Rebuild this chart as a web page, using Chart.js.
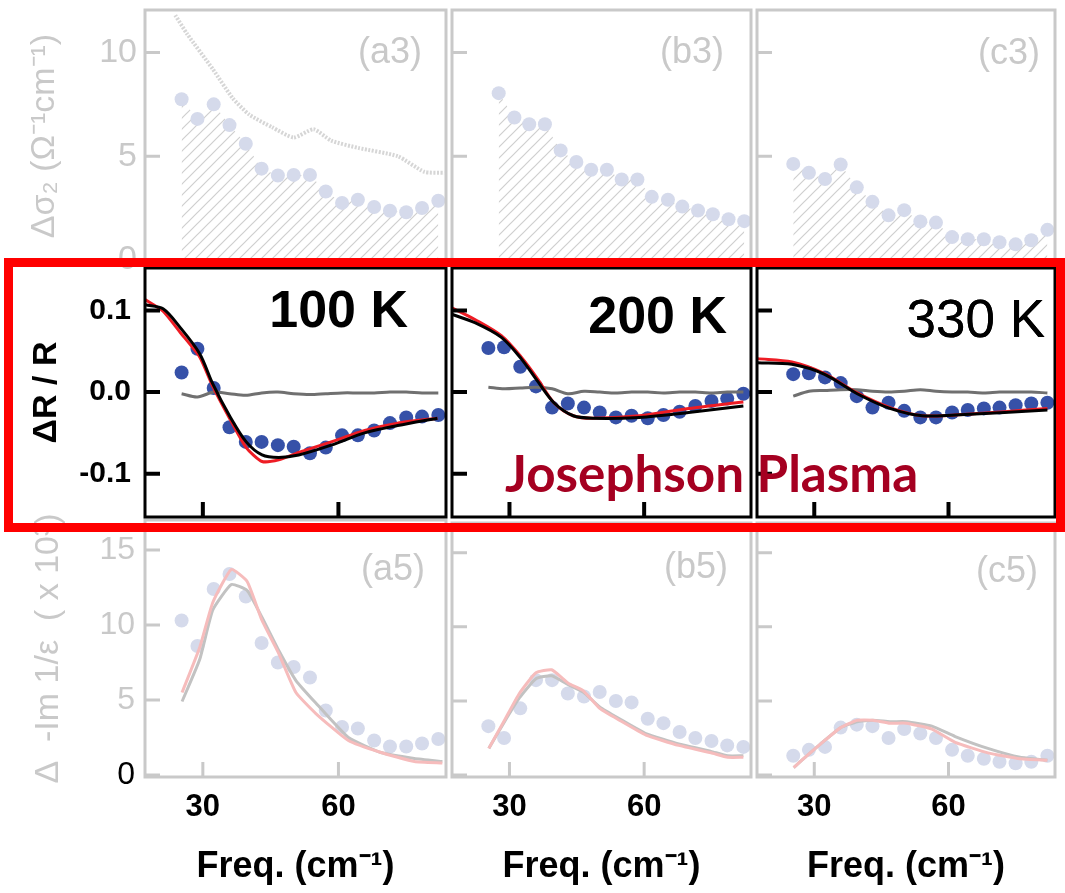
<!DOCTYPE html>
<html>
<head>
<meta charset="utf-8">
<script src="https://cdn.jsdelivr.net/npm/chart.js@4.4.1/dist/chart.umd.min.js"></script>
<style>
  body { margin: 0; background: #fff; width: 1065px; height: 893px; overflow: hidden; position: relative;
         font-family: "Liberation Sans", Arial, Helvetica, sans-serif; }
  canvas { position: absolute; }
  .lbl { position: absolute; line-height: 1; white-space: nowrap; transform: translateY(-50%); }
  #box { position: absolute; left: 4px; top: 258px; width: 1061px; height: 274px;
         border: 9px solid #ff0000; box-sizing: border-box; }
</style>
</head>
<body>
<script>
Chart.defaults.font.family = '"Liberation Sans", Arial, Helvetica, sans-serif';

// frequencies of the measured points (cm-1)
const freq   = [25.3, 28.8, 32.4, 35.9, 39.5, 43.0, 46.6, 50.1, 53.7, 57.2, 60.8, 64.3, 67.9, 71.4, 75.0, 78.5, 82.1];
const freqB3 = [27.6, 31.1, 34.4, 37.9, 41.4, 44.9, 48.2, 51.7, 55.0, 58.5, 61.7, 65.3, 68.5, 72.0, 75.3, 78.8, 82.3];

// row 3 : delta sigma2
const a3Sigma = [7.75, 6.8, 7.5, 6.5, 5.6, 4.4, 4.07, 4.1, 4.1, 3.3, 2.75, 2.9, 2.55, 2.37, 2.3, 2.5, 2.85];
const b3Sigma = [8.04, 6.87, 6.54, 6.54, 5.28, 4.72, 4.35, 4.35, 3.88, 3.88, 3.04, 2.9, 2.57, 2.38, 2.2, 1.96, 1.87];
const c3Sigma = [4.63, 4.2, 3.9, 4.6, 3.5, 2.8, 2.15, 2.4, 1.85, 1.8, 1.1, 1.0, 1.0, 0.85, 0.75, 0.95, 1.45];
const a3RefFreq = [23.9, 26.5, 32.2, 36.6, 40.3, 45.3, 50.1, 54.5, 58.4, 64.4, 73.1, 79.0, 83.4];
const a3Ref     = [11.8, 10.9, 9.2, 7.8, 7.0, 6.4, 5.9, 6.3, 5.75, 5.4, 5.0, 4.25, 4.2];

// row 4 : delta R / R
const r100Dots = [0.024, 0.053, 0.005, -0.043, -0.061, -0.061, -0.065, -0.067, -0.075, -0.068, -0.053, -0.053, -0.047, -0.038, -0.031, -0.030, -0.028];
const r100Base = [-0.002, -0.006, 0.0, -0.002, -0.004, -0.001, 0.0, -0.002, -0.003, -0.002, -0.001, -0.001, -0.001, 0.0, 0.0, -0.001, -0.001];
const r100FitFreq = [17.3, 21.2, 25.0, 29.3, 32.2, 35.9, 39.6, 43.1, 46.8, 51.2, 58.4, 65.8, 73.1, 81.9];
const r100Red   = [0.113, 0.099, 0.073, 0.043, 0.007, -0.032, -0.068, -0.085, -0.083, -0.074, -0.061, -0.047, -0.038, -0.032];
const r100Black = [0.107, 0.102, 0.079, 0.047, 0.010, -0.029, -0.061, -0.077, -0.080, -0.077, -0.065, -0.050, -0.041, -0.032];

const r200Dots = [0.054, 0.055, 0.031, 0.007, -0.019, -0.014, -0.019, -0.025, -0.031, -0.029, -0.032, -0.028, -0.024, -0.017, -0.011, -0.008, -0.002];
const r200Base = [0.006, 0.004, 0.005, 0.006, 0.004, -0.002, 0.001, 0.0, -0.001, 0.0, 0.0, -0.001, 0.0, 0.0, -0.001, 0.0, 0.0];
const r200FitFreq = [17.3, 22.3, 28.2, 32.6, 36.3, 39.9, 44.2, 48.6, 58.9, 69.9, 82.1];
const r200Red   = [0.103, 0.089, 0.069, 0.043, 0.016, -0.013, -0.029, -0.032, -0.029, -0.020, -0.012];
const r200Black = [0.095, 0.085, 0.067, 0.041, 0.013, -0.013, -0.029, -0.032, -0.031, -0.025, -0.017];

const r330Dots = [0.022, 0.023, 0.018, 0.011, -0.005, -0.019, -0.013, -0.023, -0.031, -0.031, -0.025, -0.022, -0.020, -0.019, -0.016, -0.014, -0.013];
const r330Base = [-0.005, 0.001, 0.002, 0.003, 0.003, 0.001, 0.0, 0.001, 0.003, 0.001, 0.0, 0.0, -0.001, 0.0, 0.0, 0.0, -0.001];
const r330FitFreq = [17.3, 25.0, 32.2, 39.6, 46.9, 54.1, 61.5, 72.5, 82.1];
const r330Red   = [0.041, 0.037, 0.023, -0.001, -0.019, -0.029, -0.028, -0.024, -0.020];
const r330Black = [0.036, 0.034, 0.022, -0.002, -0.020, -0.029, -0.028, -0.025, -0.022];

// row 5 : delta -Im 1/eps
const a5Dots = [10.3, 8.6, 12.4, 13.4, 11.9, 8.8, 7.5, 7.2, 6.5, 4.3, 3.2, 3.1, 2.3, 1.9, 1.9, 2.1, 2.4];
const a5FitFreq = [25.4, 29.3, 32.2, 36.3, 39.8, 43.1, 46.8, 50.6, 55.0, 62.2, 69.4, 76.8, 83.0];
const a5Red  = [5.5, 8.5, 11.5, 13.7, 12.9, 10.3, 8.1, 5.5, 4.1, 2.3, 1.5, 0.9, 0.8];
const a5Gray = [4.9, 7.7, 11.0, 12.7, 12.3, 10.5, 8.3, 6.3, 4.8, 2.5, 1.5, 1.1, 0.9];

const b5Dots = [3.3, 2.5, 4.5, 6.4, 6.4, 5.5, 5.3, 5.6, 5.0, 4.9, 3.8, 3.5, 2.9, 2.5, 2.3, 2.0, 1.9];
const b5FitFreq = [25.4, 28.9, 32.2, 35.9, 39.4, 43.1, 46.4, 50.1, 54.5, 60.4, 67.7, 74.9, 78.6, 82.1];
const b5Red  = [1.8, 3.7, 5.5, 6.9, 7.1, 6.2, 5.7, 4.5, 3.7, 2.7, 2.0, 1.5, 1.2, 1.2];
const b5Gray = [1.8, 3.6, 5.2, 6.5, 6.7, 6.1, 5.6, 4.6, 3.8, 2.8, 2.1, 1.6, 1.3, 1.3];

const c5Dots = [1.3, 1.7, 1.9, 3.2, 3.4, 3.3, 2.5, 3.1, 2.8, 2.5, 1.7, 1.3, 1.1, 0.9, 0.8, 0.9, 1.3];
const c5FitFreq = [25.4, 28.7, 32.2, 35.9, 39.6, 43.1, 46.9, 50.6, 56.3, 61.5, 68.8, 76.0, 82.1];
const c5Red  = [0.5, 1.4, 2.3, 3.2, 3.7, 3.7, 3.5, 3.5, 3.1, 2.2, 1.5, 1.1, 1.0];
const c5Gray = [0.5, 1.4, 2.3, 3.2, 3.6, 3.7, 3.6, 3.6, 3.3, 2.6, 1.8, 1.2, 1.0];

// axes
const freqTicks  = [30, 60];
const sigmaTicks = [0, 5, 10];
const reflTicks  = [-0.1, 0.0, 0.1];
const lossTicks  = [0, 5, 10, 15];
const xMin = 17.2, xMax = 83.8;
const yRanges = [[-0.1, 12.05], [-0.153, 0.152], [-0.13, 17.0]];

// layout of the 3x3 grid (pixels)
const colLeft  = [145, 449, 754];
const colRight = [449, 754, 1058];
const rowTop    = [7, 265, 520];
const rowBottom = [265, 520, 777];

const faded = '#c9c9c9';
const fadedDot = '#d5daeb';
const dotBlue = '#3651a8';

function hatch(color) {
  const c = document.createElement('canvas');
  c.width = 11; c.height = 11;
  const g = c.getContext('2d');
  g.strokeStyle = color;
  g.lineWidth = 1.2;
  g.beginPath();
  g.moveTo(0, 11); g.lineTo(11, 0);
  g.moveTo(-1, 1); g.lineTo(1, -1);
  g.moveTo(10, 12); g.lineTo(12, 10);
  g.stroke();
  return g.createPattern(c, 'repeat');
}
const hatchFill = hatch('#cfcfcf');

const pts = (xs, ys) => xs.map((x, i) => ({ x, y: ys[i] }));

function dots(xs, ys, color, order) {
  return { data: pts(xs, ys), showLine: false, pointRadius: 7, pointBackgroundColor: color,
           pointBorderWidth: 0, pointBorderColor: color, order };
}
function curve(xs, ys, color, width, order, extra) {
  return Object.assign({ data: pts(xs, ys), showLine: true, pointRadius: 0, borderColor: color,
           borderWidth: width, tension: 0.3, fill: false, order }, extra || {});
}
function hatchArea(xs, ys) {
  return { data: pts(xs, ys), showLine: true, pointRadius: 0, borderWidth: 0, borderColor: 'rgba(0,0,0,0)',
           backgroundColor: hatchFill, fill: 'origin', tension: 0, order: 9 };
}

// panel frame and inward tick marks
const framePlugin = {
  id: 'frame',
  afterDatasetsDraw(chart, args, o) {
    const { ctx, chartArea: a, scales } = chart;
    ctx.save();
    ctx.strokeStyle = o.color;
    ctx.lineWidth = o.width;
    ctx.strokeRect(a.left, a.top, a.right - a.left, a.bottom - a.top);
    ctx.lineWidth = o.tickWidth;
    ctx.beginPath();
    o.yTicks.forEach(v => {
      const y = scales.y.getPixelForValue(v);
      ctx.moveTo(a.left, y); ctx.lineTo(a.left + o.tickLen, y);
    });
    o.xTicks.forEach(v => {
      const x = scales.x.getPixelForValue(v);
      ctx.moveTo(x, a.bottom); ctx.lineTo(x, a.bottom - o.tickLen);
    });
    ctx.stroke();
    ctx.restore();
  }
};

const yTickSets = [sigmaTicks, reflTicks, lossTicks];
const yTitles = [
  { text: 'Δσ₂ (Ω⁻¹cm⁻¹)', color: faded, font: { size: 34 }, padding: { top: 24, bottom: 0 } },
  { text: 'ΔR / R', color: '#000', font: { size: 34, weight: 'bold' }, padding: { top: 26, bottom: 0 } },
  { text: 'Δ  -Im 1/ε  ( x 10³)', color: faded, font: { size: 34 }, padding: { top: 28, bottom: 0 } }
];
const yTickStyle = [
  { color: faded, font: { size: 34 }, padding: 8, callback: v => String(v) },
  { color: '#000', font: { size: 30, weight: 'bold' }, padding: 14, callback: v => v.toFixed(1) },
  { color: c => (c.tick && c.tick.value === 0 ? '#000' : faded), font: { size: 32 }, padding: 10, callback: v => String(v) }
];

function panel(col, row, datasets) {
  const leftAxis = col === 0;
  const bottomAxis = row === 2;
  const pad = 4;
  const extraTop = (leftAxis && bottomAxis) ? 60 : 0;
  const cx = leftAxis ? 0 : colLeft[col] - pad;
  const cy = rowTop[row] - pad - extraTop;
  const cw = colRight[col] + pad - cx;
  const ch = (bottomAxis ? 893 : rowBottom[row] + pad) - cy;

  const cv = document.createElement('canvas');
  cv.width = cw; cv.height = ch;
  cv.style.left = cx + 'px';
  cv.style.top = cy + 'px';
  document.body.appendChild(cv);

  const middle = row === 1;
  const xScale = {
    type: 'linear', min: xMin, max: xMax, display: bottomAxis,
    grid: { display: false, drawTicks: false }, border: { display: false },
    afterBuildTicks: s => { s.ticks = freqTicks.map(v => ({ value: v })); },
    ticks: { padding: 12, color: '#000', maxRotation: 0, font: { size: 31, weight: 'bold' } },
    title: { display: true, text: 'Freq. (cm⁻¹)', color: '#000', font: { size: 36, weight: 'bold' },
             padding: { top: 0, bottom: 4 } }
  };
  if (bottomAxis) {
    xScale.afterFit = s => { s.height = 893 - rowBottom[row]; s.paddingLeft = 0; s.paddingRight = 0; };
  }
  const yScale = {
    type: 'linear', min: yRanges[row][0], max: yRanges[row][1], display: leftAxis,
    grid: { display: false, drawTicks: false }, border: { display: false },
    afterBuildTicks: s => { s.ticks = yTickSets[row].map(v => ({ value: v })); },
    ticks: yTickStyle[row],
    title: Object.assign({ display: true }, yTitles[row])
  };
  if (leftAxis) {
    yScale.afterFit = s => { s.width = colLeft[0]; s.paddingTop = 0; s.paddingBottom = 0; };
  }

  new Chart(cv, {
    type: 'scatter',
    data: { datasets },
    options: {
      responsive: false,
      animation: false,
      devicePixelRatio: 1,
      layout: { padding: { left: leftAxis ? 0 : pad, right: pad, top: pad + extraTop, bottom: bottomAxis ? 0 : pad } },
      plugins: {
        legend: { display: false },
        tooltip: { enabled: false },
        frame: {
          color: middle ? '#000' : faded,
          width: 3,
          tickWidth: middle ? 4 : 3,
          tickLen: 15,
          yTicks: yTickSets[row],
          xTicks: row === 0 ? [] : freqTicks
        }
      },
      scales: { x: xScale, y: yScale }
    },
    plugins: [framePlugin]
  });
}

// top row (faded)
panel(0, 0, [
  dots(freq, a3Sigma, fadedDot, 1),
  curve(a3RefFreq, a3Ref, '#d6d6d6', 4, 2, { borderDash: [2, 1.5], tension: 0.2 }),
  hatchArea(freq, a3Sigma)
]);
panel(1, 0, [dots(freqB3, b3Sigma, fadedDot, 1), hatchArea(freqB3, b3Sigma)]);
panel(2, 0, [dots(freq, c3Sigma, fadedDot, 1), hatchArea(freq, c3Sigma)]);

// bottom row (faded)
panel(0, 2, [
  curve(a5FitFreq, a5Red, '#f6bcbc', 3, 1, { tension: 0.15 }),
  curve(a5FitFreq, a5Gray, '#c2c2c2', 3, 2, { tension: 0.15 }),
  dots(freq, a5Dots, fadedDot, 3)
]);
panel(1, 2, [
  curve(b5FitFreq, b5Red, '#f6bcbc', 3, 1, { tension: 0.15 }),
  curve(b5FitFreq, b5Gray, '#c2c2c2', 3, 2, { tension: 0.15 }),
  dots(freq, b5Dots, fadedDot, 3)
]);
panel(2, 2, [
  curve(c5FitFreq, c5Red, '#f6bcbc', 3, 1, { tension: 0.15 }),
  curve(c5FitFreq, c5Gray, '#c2c2c2', 3, 2, { tension: 0.15 }),
  dots(freq, c5Dots, fadedDot, 3)
]);

// middle row (highlighted)
panel(0, 1, [
  curve(r100FitFreq, r100Black, '#000', 3, 1),
  curve(r100FitFreq, r100Red, '#ee1c24', 3, 2, { tension: 0.2 }),
  curve(freq, r100Base, '#707070', 3, 3),
  dots(freq, r100Dots, dotBlue, 4)
]);
panel(1, 1, [
  curve(r200FitFreq, r200Black, '#000', 3, 1),
  curve(r200FitFreq, r200Red, '#ee1c24', 3, 2),
  curve(freq, r200Base, '#707070', 3, 3),
  dots(freq, r200Dots, dotBlue, 4)
]);
panel(2, 1, [
  curve(r330FitFreq, r330Black, '#000', 3, 1),
  curve(r330FitFreq, r330Red, '#ee1c24', 3, 2),
  curve(freq, r330Base, '#707070', 3, 3),
  dots(freq, r330Dots, dotBlue, 4)
]);

// text annotations
function label(text, right, y, css) {
  const d = document.createElement('div');
  d.className = 'lbl';
  d.textContent = text;
  d.style.right = (1065 - right) + 'px';
  d.style.top = y + 'px';
  Object.assign(d.style, css);
  document.body.appendChild(d);
  return d;
}
const panelCss = { fontSize: '36px', color: faded };
label('(a3)', 422, 51, panelCss);
label('(b3)', 724, 51, panelCss);
label('(c3)', 1040, 52, panelCss);
label('(a5)', 425, 568, panelCss);
label('(b5)', 728, 566, panelCss);
label('(c5)', 1038, 570, panelCss);
label('100 K', 408, 309, { fontSize: '52px', fontWeight: 'bold', color: '#000' });
label('200 K', 727, 315, { fontSize: '52px', fontWeight: 'bold', color: '#000' });
label('330 K', 1045, 318, { fontSize: '53px', color: '#000', textShadow: '0 0 0.6px #000' });

// Josephson Plasma caption, sized to span its width in the figure
const jp = document.createElement('div');
jp.className = 'lbl';
jp.textContent = 'Josephson Plasma';
Object.assign(jp.style, { left: '505px', top: '473px', fontFamily: 'Lato, "Open Sans", sans-serif',
  fontWeight: 'bold', color: '#a50021', fontSize: '38px' });
document.body.appendChild(jp);
const jw = jp.getBoundingClientRect().width;
jp.style.fontSize = (38 * 413 / jw).toFixed(1) + 'px';

const box = document.createElement('div');
box.id = 'box';
document.body.appendChild(box);
</script>
</body>
</html>
